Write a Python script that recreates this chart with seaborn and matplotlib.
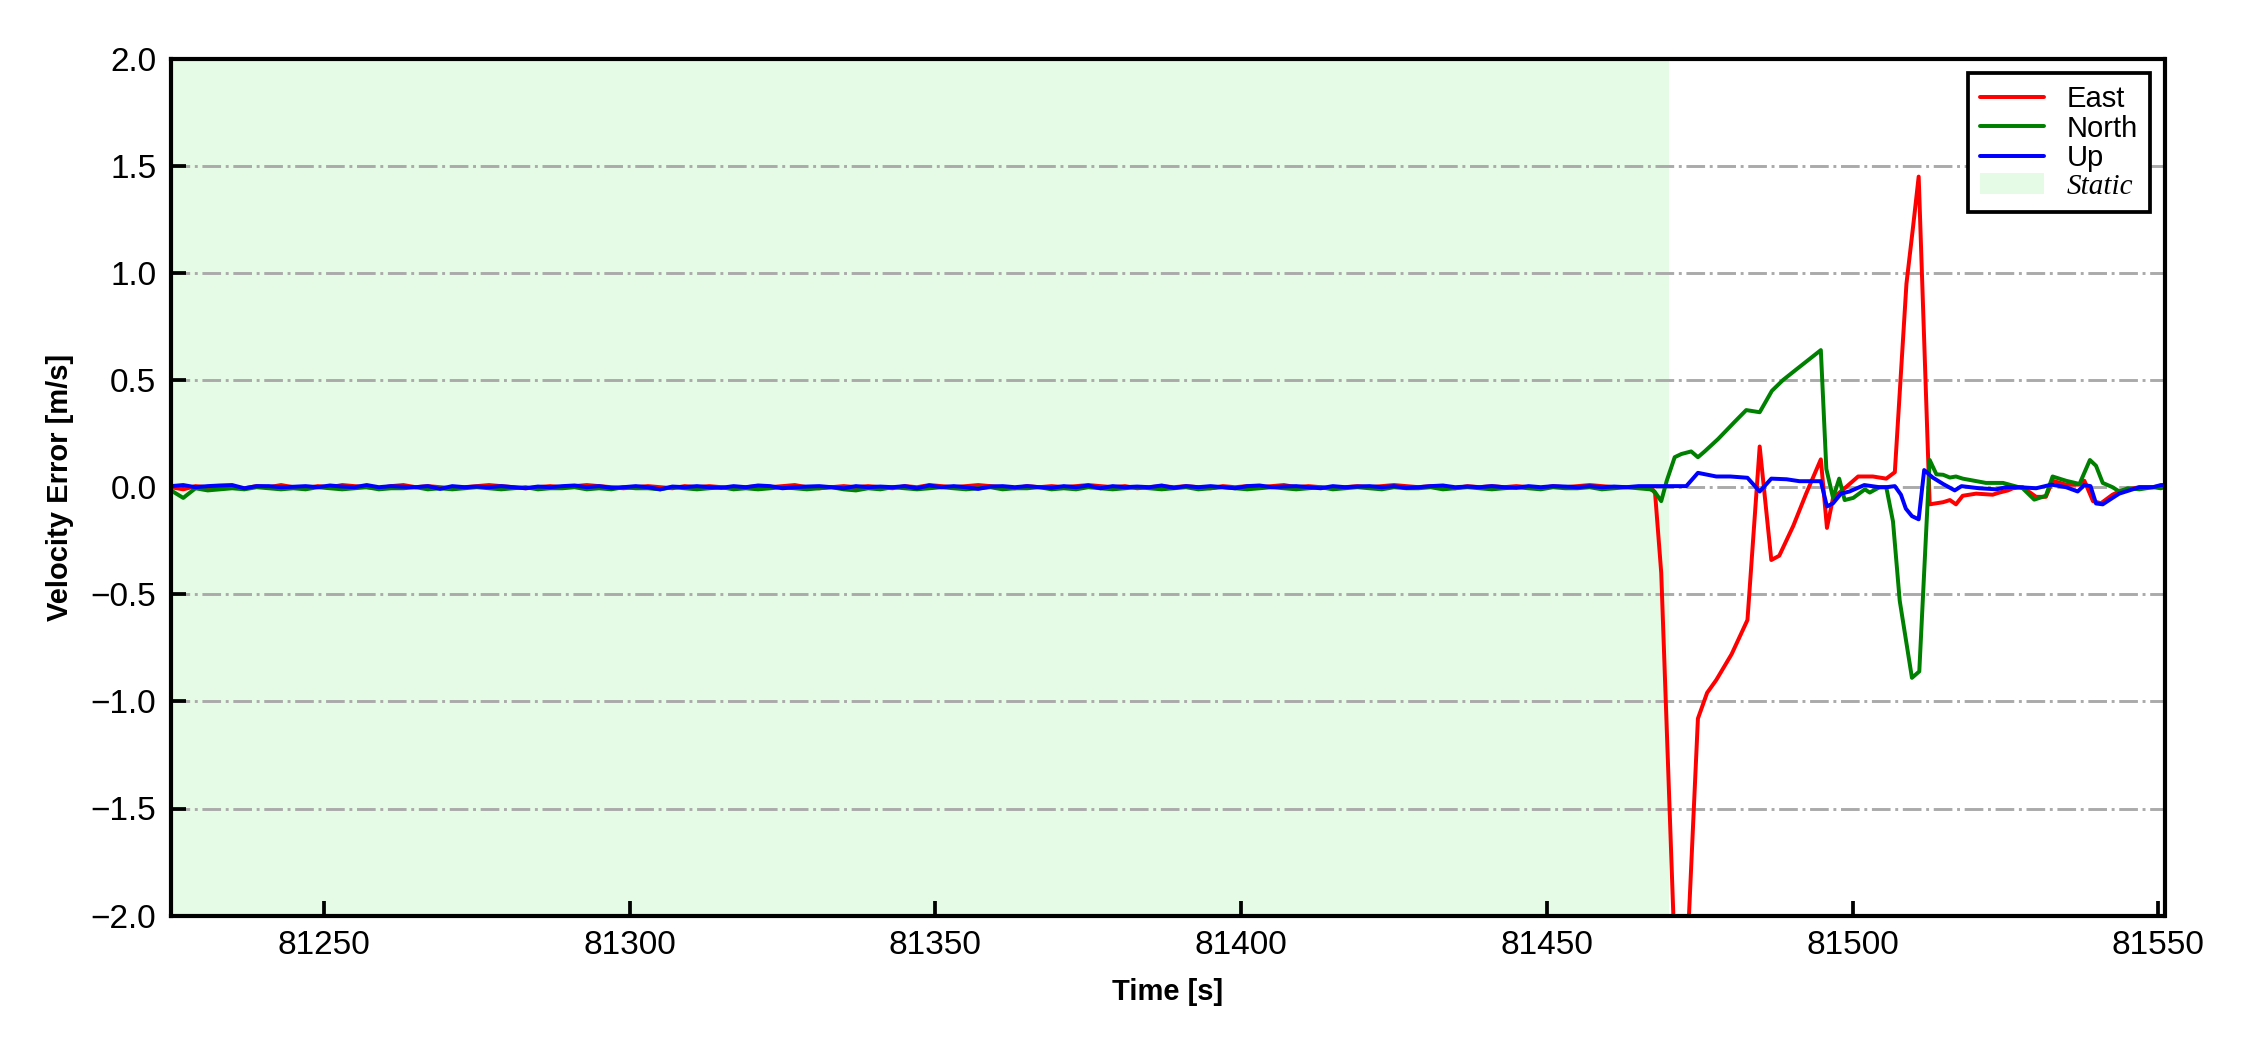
import numpy as np
import pandas as pd
import matplotlib
matplotlib.use("Agg")
import matplotlib.pyplot as plt
import matplotlib.patches as mpatches
import seaborn as sns

# static period, sampled every 2 s
static_t = np.arange(81225, 81466, 2)

east_static = [
    0.000, -0.010, 0.005, 0.000, 0.005, 0.000, -0.005, 0.005, 0.000, 0.010, 0.000,
    -0.005, 0.005, 0.000, 0.010, 0.005, 0.000, -0.005, 0.005, 0.010, 0.000, 0.005,
    0.000, -0.005, 0.000, 0.005, 0.010, 0.005, 0.000, -0.005, 0.000, 0.005, 0.000,
    0.005, 0.010, 0.005, 0.000, -0.005, 0.000, 0.005, 0.000, -0.005, 0.005, 0.000,
    0.005, 0.000, -0.005, 0.000, 0.005, 0.000, 0.005, 0.010, 0.000, -0.005, 0.000,
    0.005, 0.000, 0.005, 0.000, -0.005, 0.005, 0.000, 0.010, 0.005, 0.000, 0.005,
    0.010, 0.005, 0.000, -0.005, 0.005, 0.000, 0.005, 0.000, 0.005, 0.010, 0.005,
    0.000, 0.005, -0.005, 0.000, 0.005, 0.000, 0.005, 0.000, -0.005, 0.005, 0.000,
    0.005, 0.000, 0.005, 0.010, 0.000, 0.005, 0.000, -0.005, 0.000, 0.005, 0.000,
    0.005, 0.010, 0.005, 0.000, 0.005, 0.000, -0.005, 0.005, 0.000, 0.005, 0.000,
    0.005, 0.000, -0.005, 0.005, 0.000, 0.005, 0.010, 0.005, 0.000, 0.000, 0.000,
]
north_static = [
    -0.015, -0.050, -0.005, -0.015, -0.010, -0.005, -0.010, 0.000, -0.005, -0.010, -0.005,
    -0.010, 0.000, -0.005, -0.010, -0.005, 0.000, -0.010, -0.005, -0.005, 0.000, -0.010,
    -0.005, -0.010, -0.005, 0.000, -0.005, -0.010, -0.005, 0.000, -0.010, -0.005, -0.005,
    0.000, -0.010, -0.005, -0.010, 0.000, -0.005, -0.005, -0.010, 0.000, -0.005, -0.010,
    -0.005, 0.000, -0.010, -0.005, -0.010, -0.005, 0.000, -0.005, -0.010, -0.005, 0.000,
    -0.010, -0.015, -0.005, -0.010, 0.000, -0.005, -0.010, -0.005, 0.000, -0.005, -0.010,
    -0.005, 0.000, -0.010, -0.005, -0.005, 0.000, -0.010, -0.005, -0.010, 0.000, -0.005,
    -0.010, -0.005, 0.000, -0.005, -0.010, -0.005, 0.000, -0.010, -0.005, 0.000, -0.005,
    -0.010, -0.005, 0.000, -0.005, -0.010, -0.005, 0.000, -0.010, -0.005, 0.000, -0.005,
    -0.010, 0.000, -0.005, -0.005, 0.000, -0.010, -0.005, 0.000, -0.005, -0.010, -0.005,
    0.000, -0.005, -0.010, 0.000, -0.005, -0.005, 0.000, -0.010, -0.005, 0.000, -0.005,
]
up_static = [
    0.005, 0.010, 0.000, 0.005, 0.008, 0.010, -0.005, 0.005, 0.005, 0.000, 0.002,
    0.005, 0.000, 0.008, 0.003, 0.000, 0.010, 0.000, 0.005, 0.002, 0.000, 0.005,
    -0.008, 0.005, 0.000, 0.003, 0.000, 0.005, 0.000, -0.005, 0.003, 0.000, 0.005,
    0.008, 0.000, 0.005, -0.003, 0.000, 0.005, 0.000, -0.010, 0.003, 0.000, 0.005,
    0.000, -0.003, 0.005, 0.000, 0.008, 0.005, -0.005, 0.000, 0.003, 0.005, 0.000,
    -0.005, 0.005, 0.000, 0.003, 0.000, 0.005, -0.005, 0.008, 0.000, 0.005, 0.000,
    -0.008, 0.003, 0.005, 0.000, 0.005, 0.000, -0.003, 0.005, 0.000, 0.008, -0.005,
    0.005, 0.000, 0.003, 0.000, 0.008, -0.003, 0.005, 0.000, 0.005, 0.000, -0.005,
    0.005, 0.008, 0.000, 0.003, 0.005, 0.000, -0.005, 0.005, 0.000, 0.003, 0.005,
    0.000, 0.005, -0.003, 0.000, 0.005, 0.008, 0.000, 0.003, 0.000, 0.005, 0.000,
    -0.003, 0.005, 0.000, 0.005, 0.003, 0.000, 0.005, 0.000, 0.003, 0.000, 0.005,
]

# dynamic period
east_t = [81467.1, 81467.7, 81468.7, 81471.8, 81474.7, 81476.2, 81477.7, 81480.2,
          81482.8, 81484.8, 81486.7, 81488.0, 81490.3, 81492.4, 81494.8, 81495.8,
          81496.8, 81498.9, 81500.9, 81503.3, 81505.5, 81506.9, 81508.8, 81509.9,
          81510.8, 81512.6, 81514.8, 81515.9, 81516.9, 81518.0, 81520.2, 81522.9,
          81524.0, 81525.4, 81526.2, 81527.8, 81530.0, 81531.6, 81532.7, 81534.9,
          81537.1, 81537.9, 81539.3, 81540.6, 81542.5, 81543.6, 81545.0, 81546.9,
          81549.1, 81550.4, 81551.0]
east_v = [0.000, -0.030, -0.400, -2.900, -1.080, -0.960, -0.900, -0.780,
          -0.620, 0.190, -0.340, -0.320, -0.180, -0.030, 0.130, -0.190,
          -0.050, 0.000, 0.050, 0.050, 0.040, 0.070, 0.950, 1.220,
          1.450, -0.080, -0.070, -0.060, -0.080, -0.040, -0.030, -0.035,
          -0.025, -0.015, -0.005, 0.000, -0.045, -0.045, 0.030, 0.012,
          0.012, 0.030, -0.065, -0.075, -0.035, -0.020, -0.010, 0.000,
          0.000, 0.005, 0.000]

north_t = [81466.9, 81467.6, 81468.7, 81469.6, 81470.9, 81472.0, 81473.6, 81474.7,
           81475.8, 81478.0, 81480.7, 81482.6, 81484.8, 81486.8, 81488.6, 81490.8,
           81494.8, 81495.7, 81496.8, 81497.8, 81498.7, 81500.1, 81502.0, 81502.8,
           81504.4, 81505.5, 81506.6, 81507.7, 81509.7, 81510.9, 81512.6, 81513.7,
           81514.8, 81515.9, 81516.9, 81518.0, 81521.8, 81524.6, 81527.8, 81529.7,
           81531.6, 81532.7, 81534.9, 81537.1, 81538.8, 81539.8, 81540.9, 81542.5,
           81543.6, 81545.0, 81546.9, 81549.1, 81550.4, 81551.0]
north_v = [-0.010, -0.020, -0.065, 0.030, 0.140, 0.155, 0.167, 0.140,
           0.167, 0.225, 0.305, 0.360, 0.350, 0.450, 0.500, 0.550,
           0.640, 0.085, -0.050, 0.040, -0.060, -0.050, -0.010, -0.025,
           0.000, 0.000, -0.160, -0.530, -0.890, -0.860, 0.127, 0.060,
           0.058, 0.045, 0.050, 0.040, 0.020, 0.020, -0.005, -0.058,
           -0.040, 0.050, 0.030, 0.015, 0.127, 0.100, 0.020, 0.000,
           -0.020, -0.005, -0.010, 0.000, -0.005, 0.000]

up_t = [81467.0, 81472.8, 81474.7, 81477.7, 81480.0, 81482.8, 81484.8, 81486.7,
        81489.2, 81491.3, 81494.8, 81495.8, 81496.8, 81498.1, 81499.5, 81501.9,
        81504.4, 81505.5, 81506.9, 81507.9, 81508.7, 81509.7, 81510.8, 81511.7,
        81513.1, 81514.8, 81516.7, 81517.8, 81520.7, 81523.5, 81525.1, 81527.3,
        81530.0, 81532.5, 81534.9, 81536.8, 81537.9, 81538.9, 81539.8, 81540.9,
        81542.5, 81543.6, 81546.9, 81549.1, 81550.4, 81551.0]
up_v = [0.005, 0.005, 0.067, 0.050, 0.050, 0.044, -0.020, 0.040,
        0.037, 0.028, 0.028, -0.090, -0.075, -0.030, -0.020, 0.010,
        0.000, 0.000, 0.005, -0.035, -0.100, -0.135, -0.150, 0.080,
        0.045, 0.015, -0.015, 0.005, -0.005, -0.010, 0.000, 0.000,
        -0.005, 0.012, 0.000, -0.020, 0.010, 0.005, -0.076, -0.080,
        -0.050, -0.030, 0.000, 0.000, 0.010, 0.010]

static_end = 81470
components = ["East", "North", "Up"]
colors = {"East": "red", "North": "green", "Up": "blue"}

frames = []
for name, ts, vs, td, vd in [("East", static_t, east_static, east_t, east_v),
                             ("North", static_t, north_static, north_t, north_v),
                             ("Up", static_t, up_static, up_t, up_v)]:
    frames.append(pd.DataFrame({"time": np.concatenate([ts, td]),
                                "err": np.concatenate([vs, vd]),
                                "comp": name}))
df = pd.concat(frames, ignore_index=True)

sns.set_style("white")
plt.rcParams["font.family"] = ["Liberation Sans", "DejaVu Sans"]
plt.rcParams["text.color"] = "black"
plt.rcParams["axes.labelcolor"] = "black"

fig, ax = plt.subplots(figsize=(7.5, 3.5), dpi=300)
fig.subplots_adjust(left=0.076, right=0.962, top=0.944, bottom=0.128)

ax.axvspan(df["time"].min(), static_end, color="#90ee90", alpha=0.22, lw=0, zorder=0)
sns.lineplot(data=df, x="time", y="err", hue="comp", hue_order=components,
             palette=colors, estimator=None, sort=True, lw=0.95, ax=ax, legend=False)

ax.set_xlim(81225, 81551)
ax.set_ylim(-2, 2)
ax.set_xticks(np.arange(81250, 81551, 50))
ax.set_yticks(np.arange(-2, 2.01, 0.5))
ax.yaxis.grid(True, linestyle="-.", color="#aaaaaa", lw=0.7)
ax.tick_params(direction="in", labelsize=8, length=3.5, width=0.9,
               colors="black", bottom=True, left=True)
for s in ax.spines.values():
    s.set_color("black")
    s.set_linewidth(1.0)

ax.set_xlabel("Time [s]", fontsize=7, fontweight="bold")
ax.set_ylabel("Velocity Error [m/s]", fontsize=7, fontweight="bold")

handles = [plt.Line2D([], [], color=colors[c], lw=0.95) for c in components]
handles.append(mpatches.Patch(color="#90ee90", alpha=0.22, lw=0))
leg = ax.legend(handles, components + ["Static"], loc="upper right", fontsize=7,
                frameon=True, fancybox=False, edgecolor="black", framealpha=1,
                handlelength=2.2, labelspacing=0.05, borderpad=0.4)
leg.get_frame().set_linewidth(0.9)
for t in leg.get_texts():
    t.set_color("black")
leg.get_texts()[3].set_fontfamily(["Liberation Serif", "DejaVu Serif"])
leg.get_texts()[3].set_fontstyle("italic")

fig.savefig("out.png", dpi=300)
